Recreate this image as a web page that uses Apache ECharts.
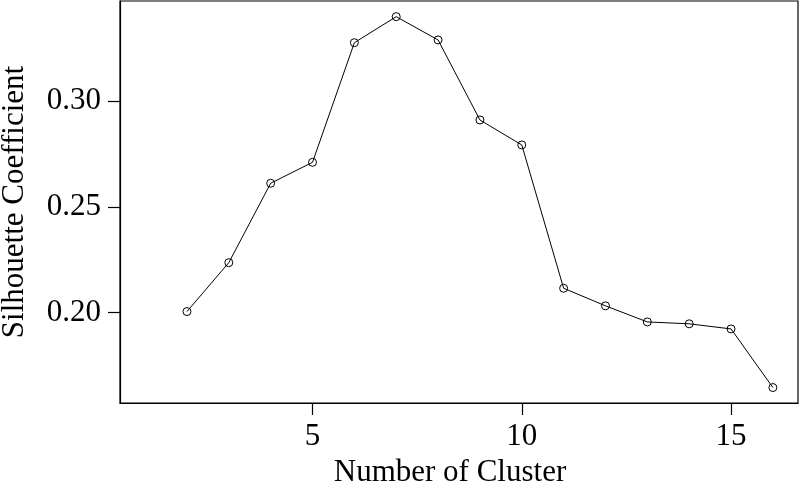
<!DOCTYPE html>
<html>
<head>
<meta charset="utf-8">
<script src="https://cdn.jsdelivr.net/npm/echarts@6/dist/echarts.min.js"></script>
<style>html,body{margin:0;padding:0;background:#fff}#c{width:800px;height:494px}</style>
</head>
<body>
<div id="c"></div>
<script>
var clusters = [2, 3, 4, 5, 6, 7, 8, 9, 10, 11, 12, 13, 14, 15, 16];
var silhouette = [0.2005, 0.2236, 0.2611, 0.2710, 0.3275, 0.3398, 0.3288, 0.2910, 0.2792, 0.2115, 0.2032, 0.1956, 0.1947, 0.1923, 0.1646];
var xTicks = [5, 10, 15];
var yTicks = [0.20, 0.25, 0.30];
var xTitle = 'Number of Cluster';
var yTitle = 'Silhouette Coefficient';

var font = 'Liberation Serif';
var chart = echarts.init(document.getElementById('c'), null, {renderer: 'canvas'});
chart.setOption({
  animation: false,
  backgroundColor: '#fff',
  grid: {left: 120, right: 2, top: 1, bottom: 91, containLabel: false, outerBoundsMode: 'none',
    show: true, borderColor: '#000', borderWidth: 1.2, backgroundColor: 'transparent'},
  xAxis: {
    type: 'value', min: 0.4, max: 16.6,
    name: xTitle, nameLocation: 'middle', nameGap: 54,
    nameTextStyle: {fontFamily: font, fontSize: 31, color: '#000', padding: [0, 18, 0, 0]},
    axisLine: {show: true, onZero: false, lineStyle: {color: '#000', width: 1.2}},
    axisTick: {show: true, length: 12, lineStyle: {color: '#000', width: 1.2}, customValues: xTicks},
    axisLabel: {fontFamily: font, fontSize: 31, color: '#000', margin: 18, customValues: xTicks},
    splitLine: {show: false}
  },
  yAxis: {
    type: 'value', min: 0.1573, max: 0.3472,
    name: yTitle, nameLocation: 'middle', nameGap: 90, nameRotate: 90,
    nameTextStyle: {fontFamily: font, fontSize: 31, color: '#000'},
    axisLine: {show: true, onZero: false, lineStyle: {color: '#000', width: 1.2}},
    axisTick: {show: true, length: 12, lineStyle: {color: '#000', width: 1.2}, customValues: yTicks},
    axisLabel: {fontFamily: font, fontSize: 31, color: '#000', margin: 19, customValues: yTicks,
      formatter: function (v) { return v.toFixed(2); }},
    splitLine: {show: false}
  },
  series: [{
    type: 'line',
    data: clusters.map(function (c, i) { return [c, silhouette[i]]; }),
    symbol: 'circle', symbolSize: 8,
    lineStyle: {color: '#000', width: 1},
    itemStyle: {color: 'rgba(0,0,0,0)', borderColor: '#000', borderWidth: 1}
  }]
});
</script>
</body>
</html>
